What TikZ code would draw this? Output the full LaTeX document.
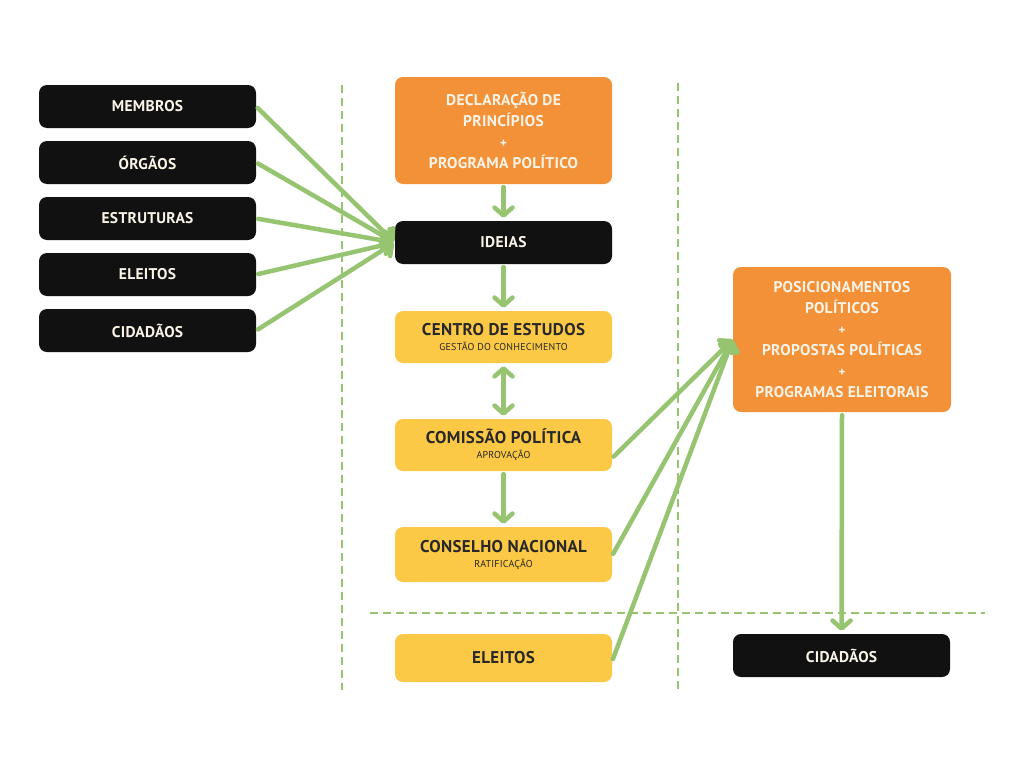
\documentclass[tikz,border=0pt]{standalone}
\usepackage{fontspec}
\setmainfont{PT Sans}[LetterSpace=2]
\usetikzlibrary{arrows.meta,positioning}

\definecolor{pfeilgruen}{RGB}{150,196,112}
\definecolor{kastenschwarz}{RGB}{17,17,17}
\definecolor{kastenorange}{RGB}{243,145,56}
\definecolor{kastengelb}{RGB}{252,201,70}
\definecolor{textcreme}{RGB}{250,244,232}
\definecolor{textdunkel}{RGB}{40,40,40}

\tikzset{
  kasten/.style={rounded corners=8pt, minimum width=217pt, minimum height=43pt,
    inner sep=0pt, align=center, font=\bfseries\fontsize{15.5}{21}\selectfont},
  schwarzbox/.style={kasten, fill=kastenschwarz, text=textcreme},
  orangebox/.style={kasten, fill=kastenorange, text=textcreme},
  gelbbox/.style={kasten, fill=kastengelb, text=textdunkel, minimum height=52pt,
    font=\bfseries\fontsize{17}{21}\selectfont},
  trenn/.style={pfeilgruen, line width=2.5pt, dash pattern=on 8pt off 5pt},
  pfeil/.style={pfeilgruen, line width=4.5pt, line cap=round,
    -{Straight Barb[length=8pt, width=18pt, round]}},
  doppelpfeil/.style={pfeil, {Straight Barb[length=8pt, width=18pt, round]}-{Straight Barb[length=8pt, width=18pt, round]}}
}
\newcommand{\plus}{{\fontsize{13}{10}\selectfont +}}
\newcommand{\unter}[1]{{\fontsize{10}{10}\selectfont\mdseries #1}}

\begin{document}
\begin{tikzpicture}[x=1pt, y=-1pt]
  \useasboundingbox[fill=white] (0,0) rectangle (1024,768);

  % Trennlinien
  \draw[trenn] (342,85) -- (342,690);
  \draw[trenn] (678,83) -- (678,690);
  \draw[trenn] (370,613) -- (985,613);

  % Linke Spalte
  \node[schwarzbox] (membros)    at (147.5,106.5) {MEMBROS};
  \node[schwarzbox] (orgaos)     at (147.5,162.5) {ÓRGÃOS};
  \node[schwarzbox] (estruturas) at (147.5,218.5) {ESTRUTURAS};
  \node[schwarzbox] (eleitosl)   at (147.5,274.5) {ELEITOS};
  \node[schwarzbox] (cidadaosl)  at (147.5,330.5) {CIDADÃOS};

  % Mittlere Spalte
  \node[orangebox, minimum height=107pt] (declaracao) at (503.5,130.5)
    {DECLARAÇÃO DE\\PRINCÍPIOS\\\plus\\PROGRAMA POLÍTICO};
  \node[schwarzbox] (ideias) at (503.5,242.5) {IDEIAS};
  \node[gelbbox] (centro)   at (503.5,337) {CENTRO DE ESTUDOS\\[-6pt]\unter{GESTÃO DO CONHECIMENTO}};
  \node[gelbbox] (comissao) at (503.5,445) {COMISSÃO POLÍTICA\\[-6pt]\unter{APROVAÇÃO}};
  \node[gelbbox, minimum height=55pt] (conselho) at (503.5,554.5) {CONSELHO NACIONAL\\[-6pt]\unter{RATIFICAÇÃO}};
  \node[gelbbox, minimum height=48pt] (eleitosm) at (503.5,658) {ELEITOS};

  % Rechte Spalte
  \node[orangebox, minimum width=218pt, minimum height=145pt] (posicionamentos) at (842,339.5)
    {POSICIONAMENTOS\\POLÍTICOS\\\plus\\PROPOSTAS POLÍTICAS\\\plus\\PROGRAMAS ELEITORAIS};
  \node[schwarzbox] (cidadaosr) at (841.5,655.5) {CIDADÃOS};

  % Pfeile links
  \foreach \quelle in {membros, orgaos, estruturas, eleitosl, cidadaosl}
    \draw[pfeil, shorten <=2pt, shorten >=1pt] (\quelle.east) -- (ideias.west);

  % Pfeile Mitte
  \draw[pfeil, shorten <=3pt, shorten >=3pt] (declaracao.south) -- (ideias.north);
  \draw[pfeil, shorten <=3pt, shorten >=3pt] (ideias.south) -- (centro.north);
  \draw[doppelpfeil, shorten <=3pt, shorten >=3pt] (centro.south) -- (comissao.north);
  \draw[pfeil, shorten <=3pt, shorten >=3pt] (comissao.south) -- (conselho.north);

  % Pfeile rechts
  \foreach \quelle/\dy in {comissao/-13, conselho/-1, eleitosm/-3}
    \draw[pfeil, shorten <=2pt] ([yshift=\dy pt]\quelle.east) -- (posicionamentos.west);
  \draw[pfeil, shorten <=3pt, shorten >=3pt] (posicionamentos.south) -- (cidadaosr.north);
\end{tikzpicture}
\end{document}
